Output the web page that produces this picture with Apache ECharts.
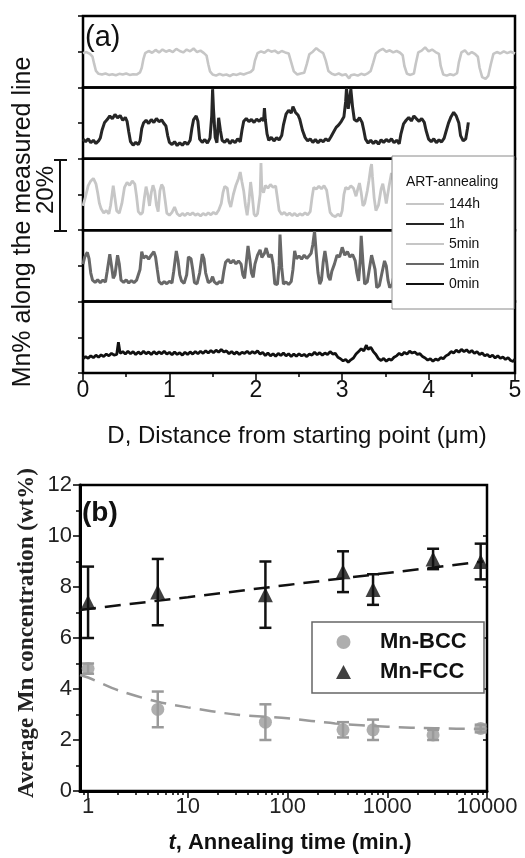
<!DOCTYPE html>
<html><head><meta charset="utf-8">
<script src="https://cdn.jsdelivr.net/npm/echarts@6/dist/echarts.min.js"></script>
<style>html,body{margin:0;padding:0;background:#fff}#c{width:525px;height:858px}</style>
</head><body><div id="c"></div>
<script>
// ---------- Panel (a): Mn% profiles along the measured line (D in um, Mn% within a 20% band) ----------
const profileNames = ['144h', '1h', '5min', '1min', '0min'];
const distanceTicks = [0, 1, 2, 3, 4, 5];
const profile144h = [[0,9.6],[0.04,9.9],[0.08,9.4],[0.11,8.6],[0.13,6.5],[0.15,4.6],[0.18,3.8],[0.22,3.6],[0.26,3.9],[0.3,3.5],[0.34,3.7],[0.38,3.4],[0.42,3.8],[0.46,3.6],[0.5,3.9],[0.54,3.5],[0.58,3.7],[0.62,3.6],[0.66,4.2],[0.68,5.5],[0.7,8.0],[0.72,9.6],[0.76,10.2],[0.8,9.7],[0.84,10.5],[0.88,9.8],[0.92,10.6],[0.96,10.0],[1.0,10.4],[1.04,9.9],[1.08,10.8],[1.12,10.2],[1.16,9.8],[1.2,10.6],[1.24,10.1],[1.28,10.9],[1.32,9.9],[1.36,10.3],[1.4,9.6],[1.43,8.9],[1.45,6.5],[1.47,4.5],[1.5,3.6],[1.54,3.3],[1.58,3.8],[1.62,3.4],[1.66,3.6],[1.7,3.2],[1.74,3.7],[1.78,3.5],[1.82,3.9],[1.86,3.6],[1.9,4.0],[1.94,4.3],[1.97,5.0],[1.99,7.5],[2.02,9.6],[2.06,10.1],[2.1,9.7],[2.14,10.5],[2.18,10.0],[2.22,10.3],[2.26,9.6],[2.3,10.2],[2.34,9.8],[2.38,9.5],[2.41,7.0],[2.44,4.5],[2.48,3.6],[2.52,3.9],[2.56,4.1],[2.59,6.5],[2.62,9.3],[2.66,10.0],[2.7,11.0],[2.74,10.2],[2.78,9.6],[2.81,7.5],[2.84,4.6],[2.88,3.8],[2.92,3.5],[2.96,3.9],[3.0,3.4],[3.04,3.7],[3.08,2.5],[3.1,3.4],[3.14,3.6],[3.18,3.3],[3.22,3.8],[3.26,3.5],[3.3,4.0],[3.33,4.6],[3.36,7.0],[3.39,9.5],[3.43,10.3],[3.47,10.8],[3.51,10.0],[3.55,10.4],[3.59,9.8],[3.63,10.2],[3.67,9.7],[3.7,9.0],[3.72,6.0],[3.75,3.8],[3.79,3.5],[3.83,3.9],[3.85,6.5],[3.88,9.8],[3.92,10.3],[3.96,11.2],[4.0,10.1],[4.04,10.6],[4.08,9.9],[4.12,9.4],[4.14,6.0],[4.17,3.6],[4.21,3.3],[4.25,3.7],[4.29,3.4],[4.33,4.0],[4.35,7.0],[4.38,9.8],[4.42,10.4],[4.46,9.2],[4.5,9.9],[4.54,9.3],[4.57,8.6],[4.59,5.5],[4.62,2.9],[4.66,2.4],[4.69,3.2],[4.72,6.5],[4.75,9.4],[4.79,9.9],[4.83,9.5],[4.87,10.1],[4.91,9.6],[4.95,10.0],[5.0,9.5]];
const profile1h = [[0,5.5],[0.03,4.8],[0.06,5.6],[0.09,4.5],[0.12,5.2],[0.15,4.3],[0.18,5.0],[0.2,5.8],[0.22,8.0],[0.25,10.2],[0.28,11.0],[0.31,12.0],[0.34,11.2],[0.37,12.4],[0.4,11.5],[0.43,12.1],[0.46,10.8],[0.49,11.6],[0.51,10.5],[0.53,7.5],[0.55,4.8],[0.58,3.8],[0.61,4.6],[0.64,4.0],[0.66,5.0],[0.68,8.5],[0.7,10.0],[0.73,10.8],[0.76,9.9],[0.79,11.0],[0.82,10.2],[0.85,11.3],[0.88,10.4],[0.91,10.9],[0.94,9.8],[0.96,9.2],[0.98,6.5],[1.0,4.6],[1.03,4.0],[1.06,4.8],[1.09,3.7],[1.12,4.5],[1.15,3.8],[1.18,4.7],[1.21,4.0],[1.24,5.2],[1.26,8.5],[1.28,11.0],[1.31,12.0],[1.33,10.5],[1.35,5.5],[1.38,4.6],[1.41,5.4],[1.44,4.4],[1.47,5.8],[1.49,12.0],[1.5,19.5],[1.51,14.0],[1.53,6.0],[1.55,4.5],[1.57,11.5],[1.59,8.0],[1.61,5.2],[1.64,4.6],[1.67,5.5],[1.7,4.3],[1.73,5.2],[1.76,4.5],[1.79,5.6],[1.82,4.8],[1.84,8.0],[1.86,10.5],[1.89,11.3],[1.92,10.4],[1.95,11.0],[1.98,10.2],[2.01,11.1],[2.04,10.5],[2.07,11.4],[2.09,10.6],[2.1,14.2],[2.11,11.0],[2.13,7.0],[2.15,5.2],[2.18,6.0],[2.21,5.0],[2.24,5.9],[2.27,5.3],[2.3,6.5],[2.32,9.5],[2.35,12.5],[2.38,13.6],[2.41,12.8],[2.43,14.6],[2.46,13.0],[2.49,12.2],[2.51,11.0],[2.54,8.0],[2.57,6.0],[2.6,5.0],[2.63,5.6],[2.66,4.6],[2.69,5.4],[2.72,4.5],[2.75,5.3],[2.78,4.8],[2.81,5.6],[2.84,5.0],[2.87,6.2],[2.9,7.5],[2.93,8.8],[2.96,9.5],[2.99,10.5],[3.02,11.8],[3.04,16.0],[3.05,19.8],[3.07,14.0],[3.09,17.5],[3.1,19.5],[3.12,14.5],[3.14,11.0],[3.17,10.5],[3.2,11.5],[3.23,10.2],[3.25,8.0],[3.27,5.5],[3.3,4.4],[3.33,5.2],[3.36,4.3],[3.39,5.0],[3.42,4.1],[3.45,5.3],[3.48,4.6],[3.51,5.4],[3.54,4.8],[3.57,5.6],[3.6,4.5],[3.63,5.2],[3.66,4.2],[3.68,7.0],[3.71,9.8],[3.74,10.8],[3.77,11.6],[3.8,10.6],[3.83,12.0],[3.86,11.2],[3.89,10.5],[3.92,11.3],[3.95,10.2],[3.97,8.0],[4.0,5.5],[4.03,4.8],[4.06,5.6],[4.09,4.5],[4.12,5.3],[4.15,4.7],[4.18,5.8],[4.2,7.5],[4.23,10.0],[4.26,11.8],[4.29,13.0],[4.32,12.0],[4.35,10.0],[4.37,6.5],[4.4,5.0],[4.43,5.6],[4.45,8.5],[4.46,10.2]];
const profile5min = [[0,6.8],[0.03,9.5],[0.06,12.5],[0.09,13.8],[0.12,14.5],[0.15,13.0],[0.17,10.5],[0.19,7.5],[0.21,6.0],[0.24,4.8],[0.27,5.5],[0.3,4.6],[0.32,7.0],[0.35,12.5],[0.37,9.0],[0.39,5.4],[0.42,4.8],[0.45,7.5],[0.48,12.0],[0.51,13.4],[0.54,12.6],[0.57,13.8],[0.6,12.9],[0.62,9.5],[0.64,5.2],[0.67,4.4],[0.69,5.0],[0.71,9.0],[0.73,12.2],[0.75,10.0],[0.77,6.8],[0.79,10.5],[0.81,12.6],[0.83,11.0],[0.85,7.0],[0.87,5.2],[0.89,11.0],[0.91,12.8],[0.93,12.0],[0.95,8.5],[0.97,4.8],[1.0,4.2],[1.03,5.0],[1.06,6.5],[1.09,4.6],[1.12,4.0],[1.15,4.7],[1.18,4.1],[1.21,4.8],[1.24,4.3],[1.27,4.9],[1.3,4.2],[1.33,4.6],[1.36,4.0],[1.39,4.7],[1.42,4.2],[1.45,4.9],[1.48,4.3],[1.51,5.0],[1.54,4.5],[1.57,5.6],[1.6,7.5],[1.62,10.5],[1.64,12.3],[1.67,11.8],[1.69,8.0],[1.71,6.5],[1.74,10.0],[1.77,12.6],[1.8,14.5],[1.82,16.3],[1.84,13.5],[1.86,11.0],[1.88,7.0],[1.9,4.2],[1.92,8.0],[1.94,13.5],[1.96,9.5],[1.98,4.5],[2.0,3.9],[2.02,4.6],[2.05,10.0],[2.06,18.8],[2.07,11.5],[2.09,10.5],[2.11,12.5],[2.14,11.8],[2.17,12.8],[2.2,12.0],[2.23,12.4],[2.25,9.0],[2.27,5.5],[2.3,4.4],[2.33,5.0],[2.36,4.2],[2.39,4.8],[2.42,4.1],[2.45,4.7],[2.48,4.0],[2.51,4.6],[2.54,4.2],[2.57,4.9],[2.6,4.3],[2.63,5.2],[2.65,9.0],[2.67,12.0],[2.7,11.5],[2.73,12.3],[2.76,11.6],[2.79,12.5],[2.82,11.2],[2.84,8.0],[2.86,5.0],[2.89,4.1],[2.92,3.8],[2.95,4.5],[2.98,3.9],[3.0,5.5],[3.02,10.0],[3.04,12.0],[3.07,11.5],[3.1,12.4],[3.13,11.8],[3.16,9.5],[3.18,11.5],[3.2,13.2],[3.22,10.5],[3.24,6.8],[3.26,7.5],[3.29,11.0],[3.31,14.0],[3.33,17.5],[3.34,18.5],[3.35,15.0],[3.37,9.0],[3.39,5.5],[3.42,7.0],[3.45,11.5],[3.47,13.0],[3.49,10.5],[3.51,7.5],[3.54,12.0],[3.57,16.0],[3.6,13.5],[3.63,9.0]];
const profile1min = [[0,10.5],[0.02,12.5],[0.05,13.8],[0.07,12.0],[0.09,8.0],[0.11,6.0],[0.14,5.4],[0.17,6.1],[0.2,5.3],[0.23,6.0],[0.26,5.5],[0.28,8.5],[0.31,13.3],[0.33,10.0],[0.35,6.5],[0.37,7.5],[0.4,13.0],[0.42,10.5],[0.44,6.0],[0.47,5.4],[0.5,6.1],[0.53,5.2],[0.56,5.9],[0.59,5.3],[0.62,6.0],[0.64,5.5],[0.66,9.0],[0.68,14.0],[0.7,12.2],[0.73,12.8],[0.76,11.9],[0.79,13.0],[0.82,14.0],[0.84,12.5],[0.86,9.0],[0.88,5.6],[0.91,4.9],[0.94,5.6],[0.97,5.0],[1.0,5.7],[1.03,5.2],[1.05,8.5],[1.08,14.2],[1.1,11.5],[1.12,7.5],[1.14,5.8],[1.17,5.1],[1.2,7.5],[1.22,12.5],[1.25,12.0],[1.27,9.0],[1.29,5.3],[1.32,5.0],[1.35,8.0],[1.38,13.3],[1.4,12.0],[1.42,8.0],[1.45,5.3],[1.48,5.8],[1.5,7.0],[1.52,5.5],[1.55,4.9],[1.58,5.6],[1.61,5.2],[1.63,8.5],[1.65,11.0],[1.68,11.8],[1.71,10.8],[1.74,11.6],[1.77,10.6],[1.8,11.4],[1.83,10.5],[1.85,7.5],[1.87,6.5],[1.89,11.0],[1.91,15.6],[1.93,12.0],[1.95,8.0],[1.97,6.8],[1.99,10.5],[2.02,13.0],[2.05,14.5],[2.07,12.4],[2.1,13.5],[2.12,15.0],[2.15,12.5],[2.18,13.2],[2.2,10.5],[2.22,5.0],[2.25,4.8],[2.27,10.0],[2.28,18.8],[2.3,9.5],[2.32,4.9],[2.35,5.5],[2.38,4.8],[2.41,5.6],[2.43,9.0],[2.45,14.2],[2.47,12.0],[2.5,12.8],[2.53,11.9],[2.56,13.0],[2.59,12.1],[2.62,12.9],[2.64,13.5],[2.66,16.0],[2.68,19.7],[2.7,13.5],[2.72,8.0],[2.74,4.9],[2.76,6.0],[2.78,11.0],[2.8,14.2],[2.82,11.0],[2.84,7.0],[2.86,6.0],[2.88,8.5],[2.91,10.5],[2.94,13.0],[2.97,12.5],[3.0,15.2],[3.03,13.0],[3.06,14.0],[3.09,12.5],[3.12,13.2],[3.15,11.5],[3.17,8.0],[3.19,5.8],[3.21,12.0],[3.22,18.4],[3.24,11.0],[3.26,4.9],[3.29,5.5],[3.31,8.5],[3.34,13.0],[3.36,13.3],[3.38,9.0],[3.4,3.9],[3.43,4.5],[3.46,8.0],[3.49,11.4],[3.51,10.0],[3.53,6.0],[3.55,3.9],[3.58,4.8],[3.61,9.0],[3.63,12.0]];
const profile0min = [[0,4.0],[0.03,4.6],[0.06,4.1],[0.09,4.8],[0.12,4.3],[0.15,5.0],[0.18,4.4],[0.21,5.1],[0.24,4.6],[0.27,5.3],[0.3,4.8],[0.33,5.5],[0.36,5.0],[0.39,5.2],[0.41,8.6],[0.43,5.5],[0.46,6.0],[0.49,5.3],[0.52,6.1],[0.55,5.4],[0.58,6.0],[0.61,5.2],[0.64,5.9],[0.67,5.3],[0.7,6.1],[0.73,5.4],[0.76,5.9],[0.79,5.2],[0.82,6.0],[0.85,5.3],[0.88,5.9],[0.91,5.4],[0.94,6.1],[0.97,5.3],[1.0,5.8],[1.03,5.1],[1.06,5.9],[1.09,5.2],[1.12,5.7],[1.15,5.0],[1.18,5.8],[1.21,5.2],[1.24,5.9],[1.27,5.3],[1.3,6.0],[1.33,5.4],[1.36,6.1],[1.39,5.5],[1.42,6.2],[1.45,5.6],[1.48,6.3],[1.51,5.7],[1.54,6.4],[1.57,5.8],[1.6,6.6],[1.63,5.9],[1.66,6.2],[1.69,5.4],[1.72,6.0],[1.75,5.3],[1.78,5.9],[1.81,5.2],[1.84,5.8],[1.87,5.5],[1.9,6.1],[1.93,5.4],[1.96,6.0],[1.99,5.5],[2.02,6.2],[2.05,5.3],[2.08,5.8],[2.11,4.9],[2.14,5.6],[2.17,4.8],[2.2,5.4],[2.23,4.7],[2.26,5.5],[2.29,4.9],[2.32,5.6],[2.35,4.8],[2.38,5.4],[2.41,4.6],[2.44,5.3],[2.47,4.7],[2.5,5.4],[2.53,4.8],[2.56,5.2],[2.59,4.6],[2.62,5.3],[2.65,5.0],[2.68,5.8],[2.71,5.1],[2.74,5.7],[2.77,5.0],[2.8,5.6],[2.83,5.2],[2.86,6.0],[2.89,5.3],[2.92,5.5],[2.95,4.4],[2.98,4.0],[3.01,3.4],[3.04,3.8],[3.07,3.0],[3.1,3.7],[3.13,4.2],[3.16,5.3],[3.19,6.0],[3.22,6.8],[3.25,6.2],[3.28,7.8],[3.3,6.6],[3.33,7.2],[3.36,6.0],[3.39,5.2],[3.42,4.0],[3.45,3.5],[3.48,4.1],[3.51,3.3],[3.54,3.9],[3.57,3.6],[3.6,4.4],[3.63,4.8],[3.66,5.5],[3.69,5.0],[3.72,5.8],[3.75,5.3],[3.78,6.1],[3.81,5.6],[3.84,5.9],[3.87,5.2],[3.9,5.4],[3.93,4.6],[3.96,4.2],[3.99,3.6],[4.02,4.0],[4.05,3.3],[4.08,3.9],[4.11,3.6],[4.14,4.3],[4.17,4.0],[4.2,4.8],[4.23,5.2],[4.26,6.0],[4.29,5.6],[4.32,6.4],[4.35,5.8],[4.38,6.6],[4.41,6.0],[4.44,6.5],[4.47,5.7],[4.5,6.3],[4.53,5.5],[4.56,6.0],[4.59,5.2],[4.62,5.6],[4.65,4.8],[4.68,5.2],[4.71,4.5],[4.74,5.0],[4.77,4.2],[4.8,4.8],[4.83,4.1],[4.86,4.5],[4.89,3.8],[4.92,4.3],[4.95,3.5],[4.98,3.2],[5.0,3.9]];

// ---------- Panel (b): average Mn concentration vs annealing time ----------
const annealTime = [1, 5, 60, 360, 720, 2880, 8640];
const bccMean = [4.8, 3.2, 2.7, 2.4, 2.4, 2.2, 2.45];
const bccErr  = [0.2, 0.7, 0.7, 0.3, 0.4, 0.2, 0.15];
const fccMean = [7.4, 7.8, 7.7, 8.6, 7.9, 9.1, 9.0];
const fccErr  = [1.4, 1.3, 1.3, 0.8, 0.6, 0.4, 0.7];
const bccFitTime = [0.83, 1, 2, 5, 10, 30, 100, 300, 1000, 3000, 9500];
const bccFit     = [4.55, 4.45, 3.95, 3.5, 3.28, 3.0, 2.85, 2.65, 2.52, 2.46, 2.43];
const fccFitTime = [0.83, 1, 10, 100, 1000, 9200];
const fccFit     = [7.1, 7.14, 7.6, 8.08, 8.55, 9.0];
const timeTickLabels = [1, 10, 100, 1000, 10000];
const timeMinorTicks = [0.9, 2, 3, 4, 5, 6, 7, 8, 9, 20, 30, 40, 50, 60, 70, 80, 90, 200, 300, 400, 500, 600, 700, 800, 900, 2000, 3000, 4000, 5000, 6000, 7000, 8000, 9000];
const concTicks = [0, 2, 4, 6, 8, 10, 12];

const profiles = [profile144h, profile1h, profile5min, profile1min, profile0min];
const profileColors = ['#c6c6c6', '#262626', '#c6c6c6', '#686868', '#111111'];
const profileWidths = [2.6, 3, 2.8, 3, 2.8];
const SANS = 'Liberation Sans', SERIF = 'Liberation Serif';

const chart = echarts.init(document.getElementById('c'), null, {renderer: 'canvas'});

const grids = [], xAxes = [], yAxes = [], series = [];
const bandTop = 16, bandH = 71.4;
for (let i = 0; i < 5; i++) {
  grids.push({left: 83, right: 10, top: bandTop + i * bandH, height: bandH, show: true,
    borderColor: '#000', borderWidth: 2.5, backgroundColor: 'transparent'});
  const last = i === 4;
  xAxes.push({type: 'value', gridIndex: i, min: 0, max: 5, interval: 1,
    axisLine: {show: false}, splitLine: {show: false},
    axisTick: {show: last, length: 7, lineStyle: {color: '#000', width: 1.5}},
    minorTick: {show: last, splitNumber: 2, length: 4, lineStyle: {color: '#000', width: 1.5}},
    axisLabel: {show: last, fontSize: 23, fontFamily: SANS, color: '#111', margin: 6,
      customValues: distanceTicks}});
  yAxes.push({type: 'value', gridIndex: i, min: 0, max: 20, interval: 10,
    axisLine: {show: false}, splitLine: {show: false}, axisLabel: {show: false},
    axisTick: {show: true, length: 5, lineStyle: {color: '#000', width: 1.5}}});
  series.push({type: 'line', name: profileNames[i], xAxisIndex: i, yAxisIndex: i,
    data: profiles[i], showSymbol: false, symbol: 'none', animation: false,
    color: profileColors[i], lineStyle: {color: profileColors[i], width: profileWidths[i], join: 'bevel'}, z: 2});
}

// Panel (b)
grids.push({left: 80, right: 38, top: 485, height: 306, show: true,
  borderColor: '#000', borderWidth: 2.5, backgroundColor: 'transparent'});
xAxes.push({type: 'log', logBase: 10, gridIndex: 5, min: 0.83, max: 10000, position: 'bottom',
  axisLine: {show: true, lineStyle: {color: '#000', width: 3}}, splitLine: {show: false},
  axisTick: {show: true, length: 7, customValues: timeTickLabels, lineStyle: {color: '#000', width: 1.5}},
  axisLabel: {fontSize: 22, fontFamily: SANS, color: '#222', margin: 5, customValues: timeTickLabels,
    formatter: v => String(Math.round(v))}});
xAxes.push({type: 'log', logBase: 10, gridIndex: 5, min: 0.83, max: 10000, position: 'bottom',
  axisLine: {show: false}, splitLine: {show: false}, axisLabel: {show: false},
  axisTick: {show: true, length: 4, customValues: timeMinorTicks, lineStyle: {color: '#000', width: 1.5}}});
yAxes.push({type: 'value', gridIndex: 5, min: 0, max: 12, interval: 2, position: 'left',
  axisLine: {show: true, lineStyle: {color: '#000', width: 3}}, splitLine: {show: false},
  axisTick: {length: 7, lineStyle: {color: '#000', width: 1.5}},
  minorTick: {show: true, splitNumber: 2, length: 4, lineStyle: {color: '#000', width: 1.5}},
  axisLabel: {fontSize: 22, fontFamily: SANS, color: '#222', margin: 8, customValues: concTicks}});
yAxes.push({type: 'value', gridIndex: 5, min: 0, max: 12, interval: 2, position: 'right',
  axisLine: {show: false}, splitLine: {show: false}, axisLabel: {show: false},
  axisTick: {inside: true, length: 4, lineStyle: {color: '#000', width: 1.5}}});

function errBar(color) {
  return function (params, api) {
    const x = api.value(0), m = api.value(1), e = api.value(2);
    const top = api.coord([x, m + e]), bot = api.coord([x, m - e]);
    const w = 6, st = {stroke: color, lineWidth: 2.5};
    return {type: 'group', children: [
      {type: 'line', shape: {x1: top[0], y1: top[1], x2: bot[0], y2: bot[1]}, style: st},
      {type: 'line', shape: {x1: top[0] - w, y1: top[1], x2: top[0] + w, y2: top[1]}, style: st},
      {type: 'line', shape: {x1: bot[0] - w, y1: bot[1], x2: bot[0] + w, y2: bot[1]}, style: st}]};
  };
}
const BCC_C = '#9a9a9a', FCC_C = '#111111';
series.push({type: 'line', name: 'BCC fit', xAxisIndex: 5, yAxisIndex: 5, showSymbol: false, symbol: 'none',
  data: bccFitTime.map((t, i) => [t, bccFit[i]]), smooth: 0.3, animation: false,
  lineStyle: {color: BCC_C, width: 2.5, type: [16, 9]}, z: 1});
series.push({type: 'line', name: 'FCC fit', xAxisIndex: 5, yAxisIndex: 5, showSymbol: false, symbol: 'none',
  data: fccFitTime.map((t, i) => [t, fccFit[i]]), animation: false,
  lineStyle: {color: FCC_C, width: 2.5, type: [16, 9]}, z: 1});
series.push({type: 'custom', name: 'BCC err', xAxisIndex: 5, yAxisIndex: 5, renderItem: errBar(BCC_C),
  encode: {x: 0, y: 1}, data: annealTime.map((t, i) => [t, bccMean[i], bccErr[i]]), animation: false, z: 3});
series.push({type: 'custom', name: 'FCC err', xAxisIndex: 5, yAxisIndex: 5, renderItem: errBar(FCC_C),
  encode: {x: 0, y: 1}, data: annealTime.map((t, i) => [t, fccMean[i], fccErr[i]]), animation: false, z: 3});
series.push({type: 'scatter', name: 'Mn-BCC', xAxisIndex: 5, yAxisIndex: 5, symbol: 'circle', symbolSize: 13,
  data: annealTime.map((t, i) => [t, bccMean[i]]), itemStyle: {color: BCC_C}, color: BCC_C, animation: false, z: 4});
series.push({type: 'scatter', name: 'Mn-FCC', xAxisIndex: 5, yAxisIndex: 5, symbol: 'triangle', symbolSize: 15,
  data: annealTime.map((t, i) => [t, fccMean[i]]), itemStyle: {color: FCC_C}, color: FCC_C, animation: false, z: 4});

const option = {
  backgroundColor: '#fff',
  animation: false,
  grid: grids, xAxis: xAxes, yAxis: yAxes, series: series,
  legend: [
    {data: profileNames, orient: 'vertical', left: 406, top: 197, padding: 0, itemWidth: 38, itemHeight: 2,
      itemGap: 6, icon: 'rect', selectedMode: false, z: 20,
      textStyle: {fontSize: 14, fontFamily: SANS, color: '#111'}},
    {data: [{name: 'Mn-BCC', icon: 'circle'}, {name: 'Mn-FCC', icon: 'triangle'}], orient: 'vertical',
      left: 336, top: 631, padding: 0, itemWidth: 15, itemHeight: 14,
      itemGap: 8, selectedMode: false, z: 20,
      formatter: name => '{n|' + name + '}',
      textStyle: {fontSize: 22, fontWeight: 'bold', fontFamily: SANS, color: '#111',
        rich: {n: {fontSize: 22, fontWeight: 'bold', fontFamily: SANS, color: '#111', padding: [0, 0, 0, 24]}}}}
  ],
  graphic: [
    // legend frames
    {type: 'rect', z: 10, shape: {x: 392, y: 156, width: 122, height: 153}, style: {fill: '#fff', stroke: '#8a8a8a', lineWidth: 1}},
    {type: 'rect', z: 10, shape: {x: 312, y: 622, width: 172, height: 71}, style: {fill: '#fff', stroke: '#666', lineWidth: 1.5}},
    {type: 'text', z: 20, x: 406, y: 182, style: {text: 'ART-annealing', fontSize: 14, fontFamily: SANS, fill: '#111', textVerticalAlign: 'middle'}},
    // panel labels
    {type: 'text', z: 20, x: 85, y: 38, style: {text: '(a)', fontSize: 29, fontFamily: SANS, fill: '#111', textVerticalAlign: 'middle'}},
    {type: 'text', z: 20, x: 82, y: 513, style: {text: '(b)', fontSize: 28, fontWeight: 'bold', fontFamily: SANS, fill: '#111', textVerticalAlign: 'middle'}},
    // axis titles
    {type: 'text', z: 20, x: 23, y: 222, rotation: Math.PI / 2, style: {text: 'Mn% along the measured line', fontSize: 25, fontFamily: SANS, fill: '#111', textAlign: 'center', textVerticalAlign: 'middle'}},
    {type: 'text', z: 20, x: 46, y: 190, rotation: Math.PI / 2, style: {text: '20%', fontSize: 24, fontFamily: SANS, fill: '#111', textAlign: 'center', textVerticalAlign: 'middle'}},
    {type: 'text', z: 20, x: 297, y: 436, style: {text: 'D, Distance from starting point (\u03bcm)', fontSize: 24, fontFamily: SANS, fill: '#111', textAlign: 'center', textVerticalAlign: 'middle'}},
    {type: 'text', z: 20, x: 27, y: 633, rotation: Math.PI / 2, style: {text: 'Average Mn concentration (wt%)', fontSize: 23, fontWeight: 'bold', fontFamily: SERIF, fill: '#222', textAlign: 'center', textVerticalAlign: 'middle'}},
    {type: 'text', z: 20, x: 290, y: 843, style: {text: '{i|t}, Annealing time (min.)', fontSize: 22, fontWeight: 'bold', fontFamily: SANS, fill: '#111', textAlign: 'center', textVerticalAlign: 'middle',
      rich: {i: {fontStyle: 'italic', fontWeight: 'bold', fontSize: 22, fontFamily: SANS, fill: '#111'}}}},
    // 20% scale bar
    {type: 'line', z: 20, shape: {x1: 60, y1: 160, x2: 60, y2: 231}, style: {stroke: '#111', lineWidth: 2}},
    {type: 'line', z: 20, shape: {x1: 54, y1: 160, x2: 67, y2: 160}, style: {stroke: '#111', lineWidth: 2}},
    {type: 'line', z: 20, shape: {x1: 54, y1: 231, x2: 67, y2: 231}, style: {stroke: '#111', lineWidth: 2}}
  ]
};
chart.setOption(option);
</script></body></html>
